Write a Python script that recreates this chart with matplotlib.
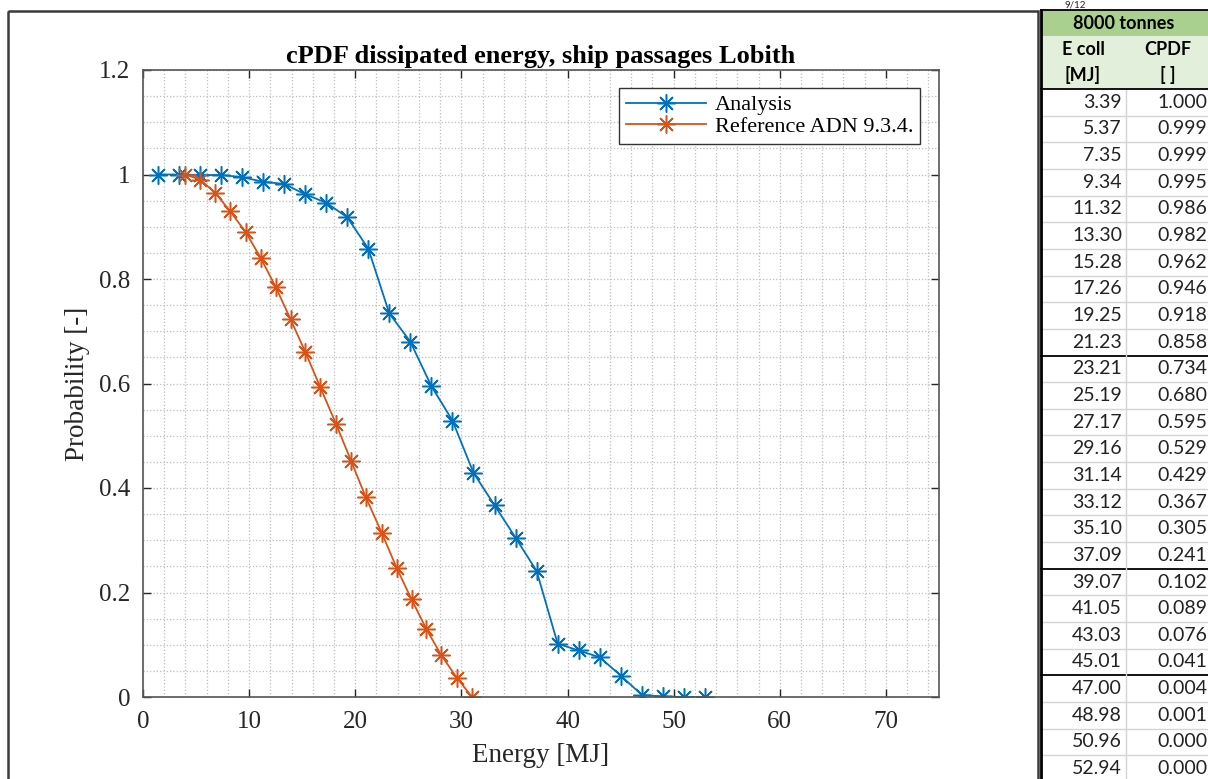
import numpy as np
import matplotlib.pyplot as plt
from matplotlib.patches import Rectangle
from matplotlib.ticker import MultipleLocator

e_coll = [3.39, 5.37, 7.35, 9.34, 11.32, 13.30, 15.28, 17.26, 19.25, 21.23,
          23.21, 25.19, 27.17, 29.16, 31.14, 33.12, 35.10, 37.09, 39.07, 41.05,
          43.03, 45.01, 47.00, 48.98, 50.96, 52.94]
cpdf = [1.000, 0.999, 0.999, 0.995, 0.986, 0.982, 0.962, 0.946, 0.918, 0.858,
        0.734, 0.680, 0.595, 0.529, 0.429, 0.367, 0.305, 0.241, 0.102, 0.089,
        0.076, 0.041, 0.004, 0.001, 0.000, 0.000]

# analysis curve has one extra leading point
analysis_x = [1.41] + e_coll
analysis_y = [1.000] + cpdf

ref_x = [4.0, 5.4, 6.8, 8.2, 9.7, 11.1, 12.5, 13.9, 15.3, 16.7,
         18.2, 19.6, 21.0, 22.5, 23.9, 25.3, 26.7, 28.1, 29.6, 31.0]
ref_y = [1.000, 0.990, 0.965, 0.930, 0.889, 0.840, 0.785, 0.723, 0.660, 0.593,
         0.522, 0.452, 0.382, 0.314, 0.247, 0.187, 0.130, 0.080, 0.036, 0.000]

thick_after = [21.23, 37.09, 45.01]

W, H = 1208, 779
fig = plt.figure(figsize=(W / 100, H / 100), dpi=100)

# overlay in pixel coordinates for frame and table
ov = fig.add_axes([0, 0, 1, 1], zorder=0)
ov.set_xlim(0, W)
ov.set_ylim(H, 0)
ov.axis('off')
ov.patch.set_alpha(0)

ov.add_patch(Rectangle((8, 11), 1030, 800, fill=False, ec='#3a3a3a', lw=1.8))

# table
x0, xs, x1 = 1041, 1126, 1215
hdr_top = 10
tfont = 'Lato'
ov.add_patch(Rectangle((x0, hdr_top), x1 - x0, 26, fc='#a9d08e', ec='none'))
ov.add_patch(Rectangle((x0, hdr_top + 26), x1 - x0, 53, fc='#e2efda', ec='none'))
ov.text((x0 + x1) / 2 - 4, hdr_top + 13, '8000 tonnes', ha='center', va='center',
        fontsize=13, fontweight='bold', family=tfont)
for xc, top, bot in [(1083, 'E coll', '[MJ]'), (1168, 'CPDF', '[ ]')]:
    ov.text(xc, hdr_top + 39, top, ha='center', va='center', fontsize=13,
            fontweight='bold', family=tfont)
    ov.text(xc, hdr_top + 65, bot, ha='center', va='center', fontsize=13,
            fontweight='bold', family=tfont)

row_top = 89
rh = 26.65
for i, (e, c) in enumerate(zip(e_coll, cpdf)):
    yc = row_top + rh * (i + 0.5)
    ov.text(1122, yc, '%.2f' % e, ha='right', va='center', fontsize=14,
            family=tfont, color='#222222')
    ov.text(1207, yc, '%.3f' % c, ha='right', va='center', fontsize=14,
            family=tfont, color='#222222')
    yb = row_top + rh * (i + 1)
    if e in thick_after:
        ov.plot([x0, x1], [yb, yb], color='black', lw=1.3)
    else:
        ov.plot([x0, x1], [yb, yb], color='#d4d4d4', lw=1.0)
ov.plot([xs, xs], [row_top, H], color='#d4d4d4', lw=1.0)
ov.plot([x0, x1], [row_top, row_top], color='black', lw=1.3)
ov.plot([x0, x1], [hdr_top, hdr_top], color='black', lw=1.3)
ov.plot([x0, x0], [hdr_top, H], color='black', lw=2.0)
ov.text(1075, 0.5, '9/12', ha='center', va='top', fontsize=7, family=tfont,
        color='#222222')

# main chart
ax = fig.add_axes([143 / W, 1 - 697 / H, 796 / W, 627 / H], zorder=1)
serif = 'Liberation Serif'
star = (8, 2, 0)
ax.plot(analysis_x, analysis_y, color='#0072BD', marker=star, lw=1.3,
        ms=13, mew=1.1, label='Analysis')
ax.plot(ref_x, ref_y, color='#D95319', marker=star, lw=1.3,
        ms=13, mew=1.1, label='Reference ADN 9.3.4.')

ax.set_xlim(0, 75)
ax.set_ylim(0, 1.2)
ax.xaxis.set_minor_locator(MultipleLocator(2))
ax.yaxis.set_minor_locator(MultipleLocator(0.05))
ax.set_xticks([0, 10, 20, 30, 40, 50, 60, 70])
ax.set_yticks([0, 0.2, 0.4, 0.6, 0.8, 1.0, 1.2])
ax.set_yticklabels(['0', '0.2', '0.4', '0.6', '0.8', '1', '1.2'])
ax.grid(which='both', linestyle=':', color='#bdbdbd', lw=0.9)
ax.tick_params(which='major', direction='in', length=6, width=1, top=True,
               right=True, labelsize=18, colors='#262626')
ax.tick_params(axis='x', pad=10)
ax.tick_params(axis='y', pad=9)
ax.tick_params(which='minor', length=0)
for lab in ax.get_xticklabels() + ax.get_yticklabels():
    lab.set_family(serif)
for sp in ax.spines.values():
    sp.set_color('#555555')
    sp.set_linewidth(1.2)

ax.set_title('cPDF dissipated energy, ship passages Lobith', family=serif,
             fontsize=19, fontweight='bold', pad=5)
ax.set_xlabel('Energy [MJ]', family=serif, fontsize=19.5, color='#262626', labelpad=7)
ax.set_ylabel('Probability [-]', family=serif, fontsize=19.5, color='#262626', labelpad=7)

leg = ax.legend(loc='upper right', bbox_to_anchor=(0.976, 0.971),
                prop={'family': serif, 'size': 16}, fancybox=False,
                framealpha=1, edgecolor='#333333', borderpad=0.3,
                handlelength=3.6, handletextpad=0.4, labelspacing=0.05,
                borderaxespad=0)
leg.get_frame().set_linewidth(1.0)

fig.savefig('out.png', dpi=100)
